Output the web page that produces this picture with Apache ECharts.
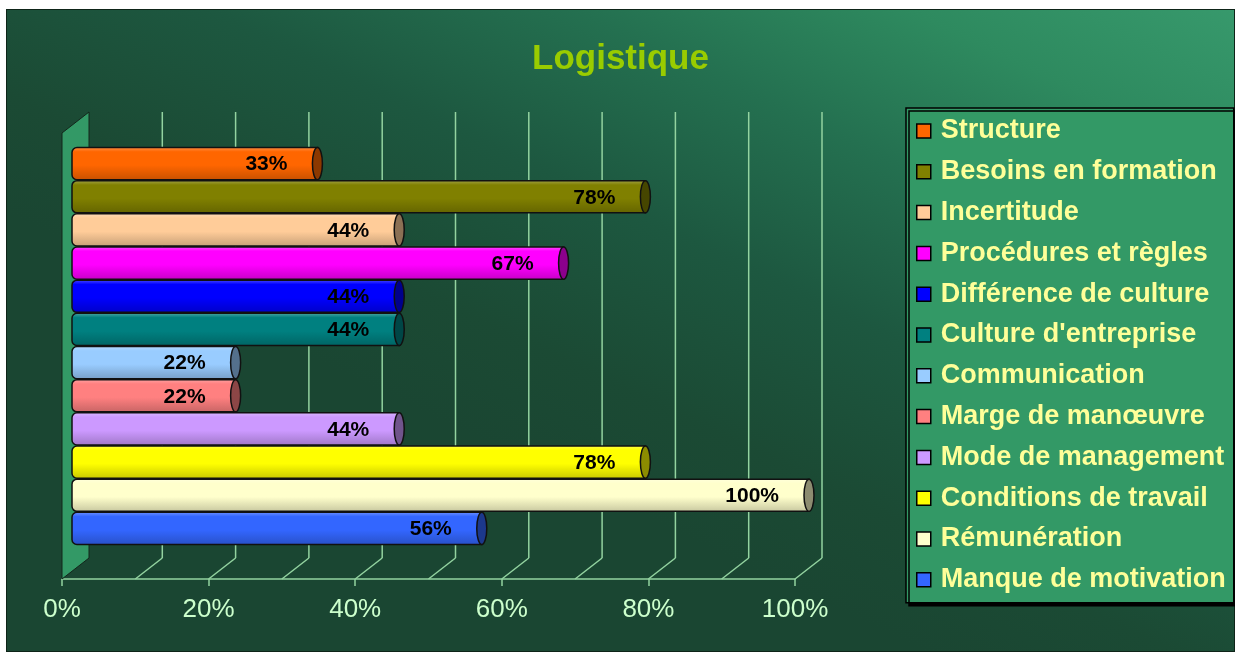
<!DOCTYPE html>
<html>
<head>
<meta charset="utf-8">
<title>Logistique</title>
<script src="https://cdn.jsdelivr.net/npm/echarts@6/dist/echarts.min.js"></script>
<style>
html,body{margin:0;padding:0;background:#fff;}
#main{position:absolute;left:6px;top:9px;width:1229px;height:643px;}
</style>
</head>
<body>
<div id="main"></div>
<script>
// données
var categories=['Structure','Besoins en formation','Incertitude','Procédures et règles','Différence de culture',"Culture d'entreprise",'Communication','Marge de manœuvre','Mode de management','Conditions de travail','Rémunération','Manque de motivation'];
var values=[33.3,77.8,44.4,66.7,44.4,44.4,22.2,22.2,44.4,77.8,100,55.6];
var colors=['#FF6600','#808000','#FFCC99','#FF00FF','#0000FF','#008080','#99CCFF','#FF8080','#CC99FF','#FFFF00','#FFFFCC','#3366FF'];
var gridTicks=[0,10,20,30,40,50,60,70,80,90,100];

var FONT='"Liberation Sans", Arial, sans-serif';
var GRID_COLOR='#93d3a0';
var chart=echarts.init(document.getElementById('main'));

//éclaircir (>0) ou assombrir (<0) une couleur
function shade(c,amt){
  var n=parseInt(c.slice(1),16),rgb=[n>>16&255,n>>8&255,n&255];
  rgb=rgb.map(function(v){return Math.round(amt<0?v*(1+amt):v+(255-v)*amt);});
  return 'rgb('+rgb.join(',')+')';
}

//barre en cylindre
function renderBar(params,api){
  var v=api.value(0),idx=api.value(1);
  var s=api.coord([0,idx]),e=api.coord([v,idx]);
  var h=api.size([0,1])[1]-1;
  var y0=s[1]-h/2;
  var c=colors[idx];
  var fill=new echarts.graphic.LinearGradient(0,0,0,1,[
    {offset:0,color:shade(c,0.3)},
    {offset:0.15,color:c},
    {offset:0.55,color:c},
    {offset:1,color:shade(c,-0.22)}
  ]);
  return {type:'group',children:[
    {type:'rect',shape:{x:s[0],y:y0,width:e[0]-s[0],height:h,r:[5,0,0,5]},
     style:{fill:fill,stroke:'#111',lineWidth:1.5}},
    {type:'ellipse',shape:{cx:e[0],cy:s[1],rx:5,ry:h/2},
     style:{fill:shade(c,-0.45),stroke:'#111',lineWidth:1.5}},
    {type:'text',style:{x:e[0]-30,y:s[1]+1,text:Math.round(v)+'%',align:'right',verticalAlign:'middle',
     font:'bold 21px '+FONT,fill:'#000'}}
  ]};
}

//cadre 3D: mur + lignes de grille
function renderFrame(params,api){
  var t=api.value(0);
  var b=api.coord([t,0]),top=api.coord([t,1]);
  var dx=27,dy=21;
  var kids=[];
  if(t===0){
    kids.push({type:'polygon',shape:{points:[[b[0],top[1]+dy],[b[0]+dx,top[1]],[b[0]+dx,b[1]-dy],[b[0],b[1]]]},
      style:{fill:'#339966',stroke:'#13261b',lineWidth:1}});
  }else{
    kids.push({type:'line',shape:{x1:b[0]+dx,y1:top[1],x2:b[0]+dx,y2:b[1]-dy},style:{stroke:GRID_COLOR,lineWidth:1.5}});
    kids.push({type:'line',shape:{x1:b[0]+dx,y1:b[1]-dy,x2:b[0],y2:b[1]},style:{stroke:GRID_COLOR,lineWidth:1.5}});
  }
  return {type:'group',children:kids};
}

var series=categories.map(function(name,i){
  return {name:name,type:'custom',xAxisIndex:0,yAxisIndex:0,z:5,
    itemStyle:{color:colors[i]},
    data:[[values[i],i]],renderItem:renderBar};
});
series.unshift({name:'frame',type:'custom',xAxisIndex:1,yAxisIndex:1,z:1,silent:true,
  data:gridTicks.map(function(t){return [t,0];}),renderItem:renderFrame});

chart.setOption({
  animation:false,
  graphic:[{type:'rect',z:-100,silent:true,shape:{x:0,y:0,width:1229,height:643},
    style:{fill:new echarts.graphic.LinearGradient(1,0,0.75,1,[
      {offset:0,color:'#37996c'},{offset:0.2,color:'#2e8a5f'},{offset:0.4,color:'#247050'},
      {offset:0.62,color:'#1d5840'},{offset:0.85,color:'#1b4a34'},{offset:1,color:'#1a4632'}
    ]),stroke:'#0e2418',lineWidth:2}}],
  title:{text:'Logistique',left:'center',top:28,
    textStyle:{color:'#99cc00',fontSize:35,fontWeight:'bold',fontFamily:FONT}},
  legend:{orient:'vertical',left:900,top:99,padding:[8,8,8,10],itemWidth:14,itemHeight:14,itemGap:10.8,
    icon:'rect',data:categories,backgroundColor:'#339966',borderColor:'#000',borderWidth:1.5,
    shadowColor:'#000',shadowOffsetX:3,shadowOffsetY:3,shadowBlur:0,
    itemStyle:{borderColor:'#000',borderWidth:1.5},
    textStyle:{color:'#ffff99',fontSize:27,fontWeight:'bold',lineHeight:30,fontFamily:FONT,padding:[0,0,0,5]}},
  grid:[
    {left:66,top:138,width:737,height:398},
    {left:56,top:103,width:733,height:467}
  ],
  xAxis:[
    {gridIndex:0,type:'value',min:0,max:100,show:false},
    {gridIndex:1,type:'value',min:0,max:100,interval:20,
     axisLine:{show:true,lineStyle:{color:GRID_COLOR,width:1.5}},
     axisTick:{show:true,length:7,lineStyle:{color:GRID_COLOR,width:1.5}},
     splitLine:{show:false},
     axisLabel:{formatter:'{value}%',color:'#ccffcc',fontSize:26,margin:18,fontFamily:FONT}}
  ],
  yAxis:[
    {gridIndex:0,type:'category',data:categories,inverse:true,show:false},
    {gridIndex:1,type:'value',min:0,max:1,show:false}
  ],
  series:series
});
</script>
</body>
</html>
